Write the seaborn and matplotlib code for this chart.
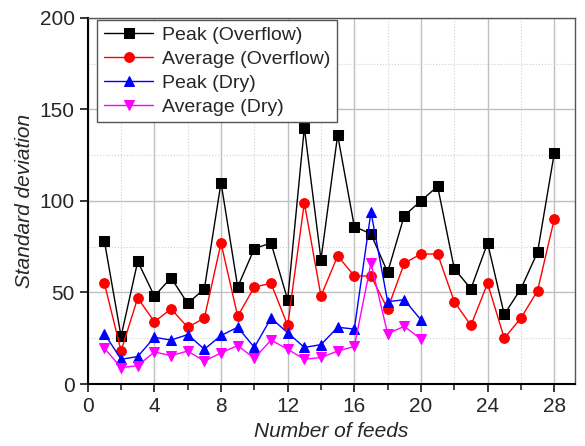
import numpy as np
import pandas as pd
import seaborn as sns
import matplotlib.pyplot as plt
from matplotlib.ticker import MultipleLocator

# datos
feeds_overflow = list(range(1, 29))
feeds_dry = list(range(1, 21))

peak_overflow = [78, 26, 67, 48, 58, 44, 52, 110, 53, 74, 77, 46, 140, 68,
                 136, 86, 82, 61, 92, 100, 108, 63, 52, 77, 38, 52, 72, 126]
avg_overflow = [55, 18, 47, 34, 41, 31, 36, 77, 37, 53, 55, 32, 99, 48,
                70, 59, 59, 41, 66, 71, 71, 45, 32, 55, 25, 36, 51, 90]
peak_dry = [27.5, 13.5, 15, 25.5, 24, 27, 19, 26.5, 31, 20, 36, 28, 20, 21.5,
            31, 30, 94, 45, 46, 35]
avg_dry = [19.5, 9, 10, 17.5, 15.5, 18, 12.5, 17, 21, 14, 24, 19, 13.5, 14.5,
           18, 20.5, 66, 27.5, 31.5, 24.5]

series = [
    ("Peak (Overflow)", feeds_overflow, peak_overflow, "black", "s"),
    ("Average (Overflow)", feeds_overflow, avg_overflow, "red", "o"),
    ("Peak (Dry)", feeds_dry, peak_dry, "blue", "^"),
    ("Average (Dry)", feeds_dry, avg_dry, "magenta", "v"),
]

sns.set_style("white")
plt.rcParams['font.family'] = ['Liberation Sans', 'DejaVu Sans']

fig = plt.figure(figsize=(5.85, 4.46), dpi=100)
ax = fig.add_axes([0.150, 0.139, 0.833, 0.821])

for nombre, xs, ys, color, marker in series:
    df = pd.DataFrame({"x": xs, "y": ys})
    sns.lineplot(data=df, x="x", y="y", ax=ax, color=color, marker=marker,
                 markersize=7, markeredgecolor=color, linewidth=1,
                 label=nombre, sort=False)

ax.set_xlim(0, 29.25)
ax.set_ylim(0, 200)
ax.xaxis.set_major_locator(MultipleLocator(4))
ax.xaxis.set_minor_locator(MultipleLocator(2))
ax.yaxis.set_major_locator(MultipleLocator(50))
ax.yaxis.set_minor_locator(MultipleLocator(25))

ax.grid(which='major', color='#c0c0c0', linewidth=1)
ax.grid(which='minor', color='#d0d0d0', linewidth=0.8, linestyle=':')
ax.set_axisbelow(True)

for s in ax.spines.values():
    s.set_color('#555555')
    s.set_linewidth(1)
ax.spines['left'].set_color('black')
ax.spines['bottom'].set_color('black')
ax.spines['left'].set_linewidth(1.5)
ax.spines['bottom'].set_linewidth(1.5)

ax.tick_params(axis='both', which='major', direction='out', length=6, width=1.3,
               labelsize=15, left=True, bottom=True)
ax.tick_params(axis='x', which='minor', direction='out', length=4, width=1.2,
               bottom=True)
ax.tick_params(axis='y', which='minor', left=False)

ax.set_xlabel("Number of feeds", fontsize=15, style='italic')
ax.set_ylabel("Standard deviation", fontsize=15, style='italic')

leg = ax.legend(loc='upper left', bbox_to_anchor=(0.02, 0.995), fontsize=14,
                frameon=True, fancybox=False, edgecolor='#555555', framealpha=1,
                handlelength=2.5, borderaxespad=0, labelspacing=0.32,
                borderpad=0.35, handletextpad=0.45)
leg.get_frame().set_linewidth(1)

fig.savefig("out.png", dpi=100)
